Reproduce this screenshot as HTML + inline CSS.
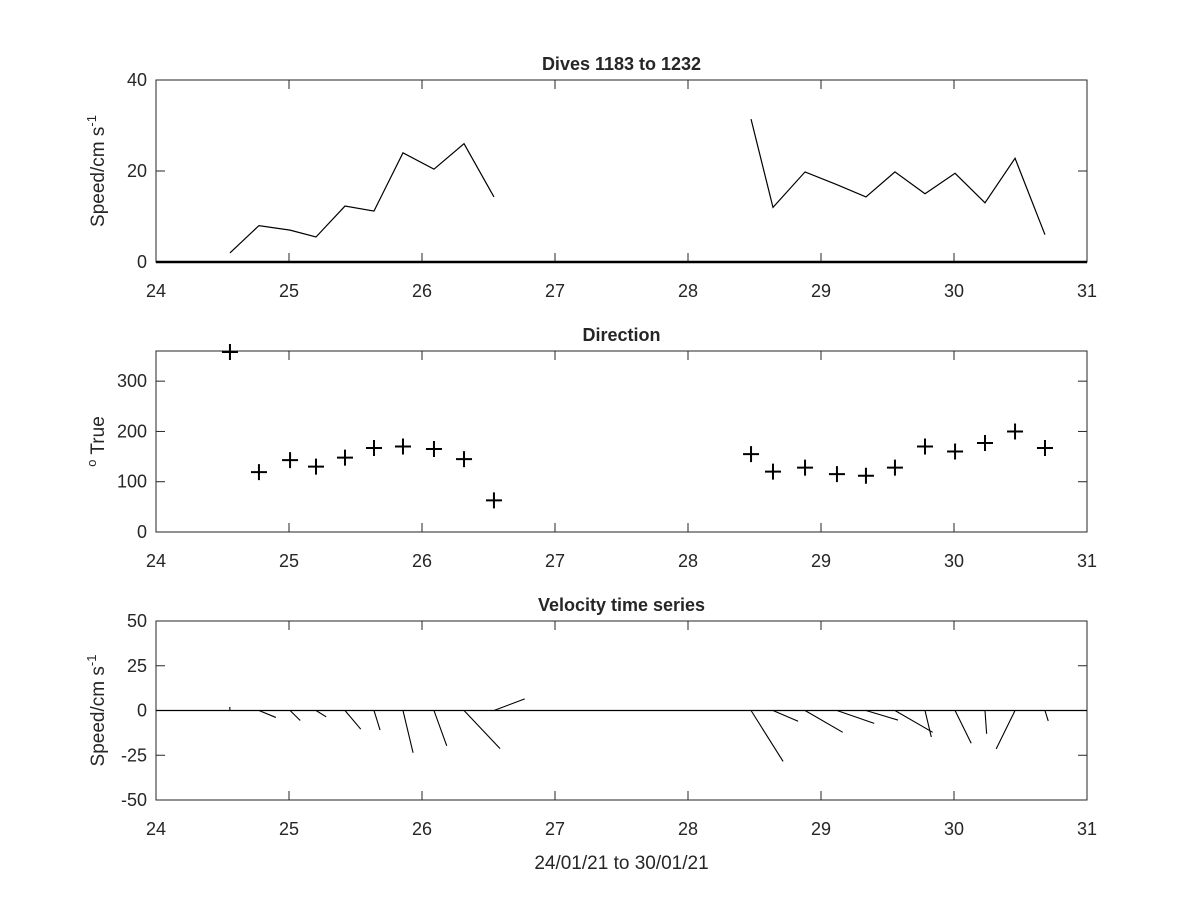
<!DOCTYPE html>
<html><head><meta charset="utf-8"><style>
body{margin:0;background:#fff;}
svg text{font-family:"Liberation Sans",Arial,sans-serif;fill:#262626;}
</style></head><body>
<svg id="c" width="1200" height="900" xmlns="http://www.w3.org/2000/svg"></svg>
<script>
const times=[24.556,24.774,25.008,25.203,25.421,25.639,25.857,26.090,26.316,26.541,28.474,28.639,28.880,29.120,29.338,29.556,29.782,30.008,30.233,30.459,30.684];
const speeds=[2,8,7,5.5,12.3,11.2,24,20.4,26,14.3,31.4,12,19.8,17,14.3,19.8,15,19.5,13,22.8,6];
const directions=[358,119,143,130,148,167,170,165,145,63,155,120,128,115,112,128,170,160,177,200,167];
const xTicks=[24,25,26,27,28,29,30,31];
const speedTicks=[0,20,40];
const dirTicks=[0,100,200,300];
const velTicks=[-50,-25,0,25,50];
const segBreak=10;

const svg=document.getElementById('c');
const NS='http://www.w3.org/2000/svg';
function mk(t,a,p){const e=document.createElementNS(NS,t);for(const k in a)e.setAttribute(k,a[k]);(p||svg).appendChild(e);return e;}
const X0=156,X1=1087;
const xs=d=>X0+(d-24)/7*(X1-X0);
function axes(name,top,bot,ymin,ymax,yt,title,ylabel){
  const g=mk('g',{});
  
  
  const ys=v=>bot-(v-ymin)/(ymax-ymin)*(bot-top);
  const r=mk('rect',{x:X0,y:top,width:X1-X0,height:bot-top,fill:'none',stroke:'#262626','stroke-width':1},g);
  
  
  xTicks.forEach(t=>{const x=xs(t);
    mk('line',{x1:x,x2:x,y1:bot,y2:bot-9,stroke:'#262626'},g);mk('line',{x1:x,x2:x,y1:top,y2:top+9,stroke:'#262626'},g);
    const tx=mk('text',{x:x,y:bot+35,'text-anchor':'middle','font-size':18},g);tx.textContent=t;
    
    });
  yt.forEach(t=>{const y=ys(t);
    mk('line',{x1:X0,x2:X0+9,y1:y,y2:y,stroke:'#262626'},g);mk('line',{x1:X1,x2:X1-9,y1:y,y2:y,stroke:'#262626'},g);
    const tx=mk('text',{x:X0-9,y:y+6,'text-anchor':'end','font-size':18},g);tx.textContent=t;
    
    });
  const ti=mk('text',{x:(X0+X1)/2,y:top-10,'text-anchor':'middle','font-size':18,'font-weight':'bold',fill:'#000'},g);ti.textContent=title;
  
  
  const yl=mk('text',{x:0,y:0,'text-anchor':'middle','font-size':19,transform:`translate(104,${(top+bot)/2}) rotate(-90)`},g);yl.innerHTML=ylabel;
  
  
  return {g,ys};
}
const A=axes('speed-axes',80,262,0,40,speedTicks,'Dives 1183 to 1232','Speed/cm s<tspan dy="-8" font-size="13">-1</tspan>');
mk('line',{x1:X0,x2:X1,y1:A.ys(0),y2:A.ys(0),stroke:'#000','stroke-width':2.5},A.g);
[[0,segBreak],[segBreak,times.length]].forEach(([a,b])=>{
  const pts=[];for(let i=a;i<b;i++)pts.push(xs(times[i])+','+A.ys(speeds[i]));
  const pl=mk('polyline',{points:pts.join(' '),fill:'none',stroke:'#000','stroke-width':1.2},A.g);
  
  
});
const B=axes('direction-axes',351,532,0,360,dirTicks,'Direction','<tspan dy="-8" font-size="13">o</tspan><tspan dy="8"> True</tspan>');
times.forEach((t,i)=>{const x=xs(t),y=B.ys(directions[i]);
  const p=mk('path',{d:`M${x-8},${y}H${x+8}M${x},${y-8}V${y+8}`,stroke:'#000','stroke-width':2},B.g);
  
  });
const C=axes('velocity-axes',621,800,-50,50,velTicks,'Velocity time series','Speed/cm s<tspan dy="-8" font-size="13">-1</tspan>');
mk('line',{x1:X0,x2:X1,y1:C.ys(0),y2:C.ys(0),stroke:'#000','stroke-width':1.2},C.g);
const pxPerUnit=(C.ys(0)-C.ys(1));
times.forEach((t,i)=>{const r=directions[i]*Math.PI/180;const u=speeds[i]*Math.sin(r),v=speeds[i]*Math.cos(r);
  const x=xs(t);
  const l=mk('line',{x1:x,y1:C.ys(0),x2:x+u*pxPerUnit*1.35,y2:C.ys(v),stroke:'#000','stroke-width':1.1},C.g);
  
  });
const xl=mk('text',{x:(X0+X1)/2,y:869,'text-anchor':'middle','font-size':19});xl.textContent='24/01/21 to 30/01/21';


</script>
</body></html>
